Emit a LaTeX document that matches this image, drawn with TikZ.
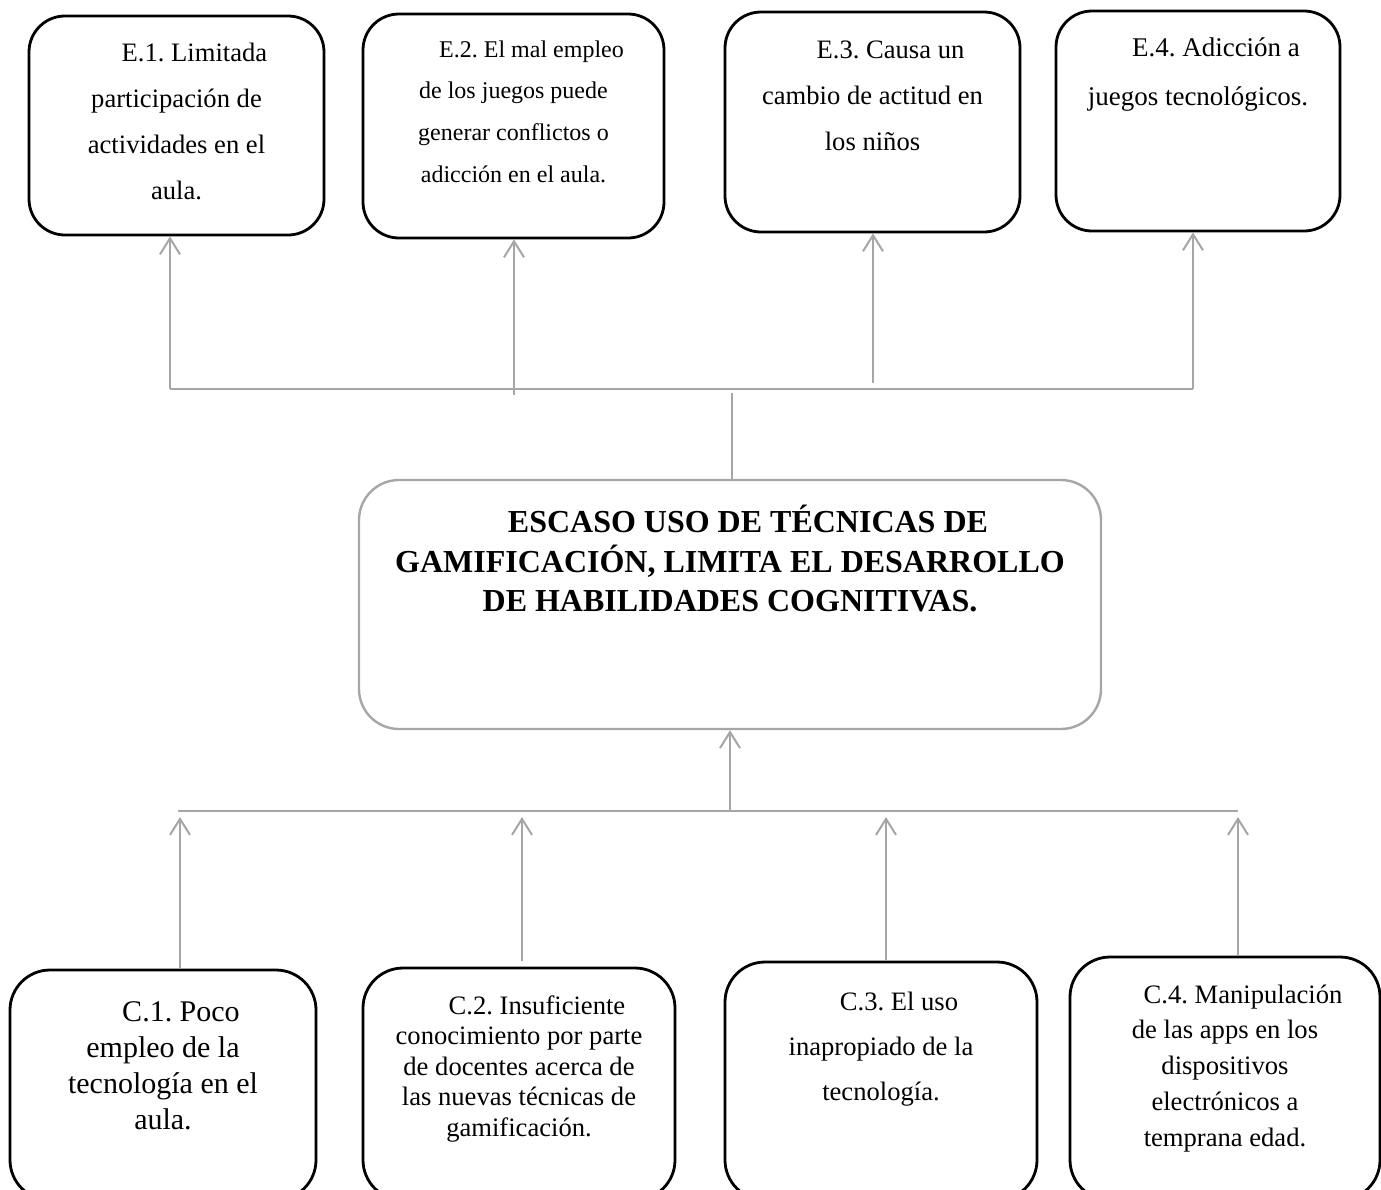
\documentclass[tikz,border=0pt]{standalone}
\usepackage{fontspec}
\setmainfont{Liberation Serif}
\usetikzlibrary{arrows.meta}
\definecolor{linegray}{RGB}{166,166,166}
\frenchspacing
\newcommand{\boxtext}[6]{\parbox[c][#2][t]{#1}{\centering\fontsize{#3}{#4}\selectfont\vspace*{#5}\rule{0pt}{1em}\hspace*{18pt}#6}}
\begin{document}
\begin{tikzpicture}[x=0.5pt,y=-0.5pt,
    box/.style={draw=black, line width=1.4pt, rounded corners=18pt, inner sep=0pt},
    hubbox/.style={draw=linegray, line width=1.2pt, rounded corners=20pt, inner sep=0pt},
    link/.style={draw=linegray, line width=1pt},
    up/.style={link, -{Straight Barb[length=8pt,width=10pt]}}]
    \useasboundingbox (0,0) rectangle (1381,1189);
    \node[box] (e1) at (176.5,125.5) {\boxtext{147.5pt}{109.5pt}{13.3pt}{23pt}{9.2pt}{E.1. Limitada\\participación de\\actividades en el\\aula.}};
    \node[box] (e2) at (513.5,126) {\boxtext{150.5pt}{112pt}{12pt}{20.8pt}{9.6pt}{E.2. El mal empleo\\de los juegos puede\\generar conflictos o\\adicción en el aula.}};
    \node[box] (e3) at (872.5,122) {\boxtext{147.5pt}{110pt}{13.3pt}{23pt}{9.7pt}{E.3. Causa un\\cambio de actitud en\\los niños}};
    \node[box] (e4) at (1198,121) {\boxtext{142pt}{110pt}{13.5pt}{24.5pt}{9pt}{E.4. Adicción a\\juegos tecnológicos.}};
    \node[hubbox] (hub) at (730,604.5) {\boxtext{371pt}{124.5pt}{16pt}{19.75pt}{10.3pt}{\bfseries ESCASO USO DE TÉCNICAS DE\\GAMIFICACIÓN, LIMITA EL DESARROLLO\\DE HABILIDADES COGNITIVAS.}};
    \node[box, rounded corners=20pt] (c1) at (163,1085) {\boxtext{153pt}{115pt}{15pt}{18pt}{10.5pt}{C.1. Poco\\empleo de la\\tecnología en el\\aula.}};
    \node[box, rounded corners=20pt] (c2) at (519,1084) {\boxtext{156pt}{116pt}{13.3pt}{15.25pt}{9.7pt}{C.2. Insuficiente\\conocimiento por parte\\de docentes acerca de\\las nuevas técnicas de\\gamificación.}};
    \node[box, rounded corners=20pt] (c3) at (881,1081) {\boxtext{156pt}{119pt}{13.3pt}{22.5pt}{10.7pt}{C.3. El uso\\inapropiado de la\\tecnología.}};
    \node[box, rounded corners=20pt] (c4) at (1225,1078.5) {\boxtext{155pt}{121.5pt}{13.3pt}{17.9pt}{9.7pt}{C.4. Manipulación\\de las apps en los\\dispositivos\\electrónicos a\\temprana edad.}};
    \coordinate (tl) at (170,389);
    \coordinate (tr) at (1193,389);
    \coordinate (t2) at (514,395);
    \coordinate (t3) at (873,383);
    \coordinate (tc) at (732,393);
    \draw[link] (tl) -- (tr);
    \draw[up] (tl) -- (tl |- e1.south);
    \draw[up] (t2) -- (t2 |- e2.south);
    \draw[up] (t3) -- (t3 |- e3.south);
    \draw[up] (tr) -- (tr |- e4.south);
    \draw[link] (tc) -- (tc |- hub.north);
    \coordinate (bl) at (178,811);
    \coordinate (br) at (1238,811);
    \coordinate (s1) at (180,817);
    \coordinate (s2) at (522,817);
    \coordinate (s3) at (886,817);
    \coordinate (s4) at (1238,817);
    \draw[link] (bl) -- (br);
    \draw[up] (hub.south |- bl) -- (hub.south);
    \draw[up] (s1 |- c1.north) -- (s1);
    \draw[up, shorten <=3pt] (s2 |- c2.north) -- (s2);
    \draw[up] (s3 |- c3.north) -- (s3);
    \draw[up] (s4 |- c4.north) -- (s4);
\end{tikzpicture}
\end{document}
